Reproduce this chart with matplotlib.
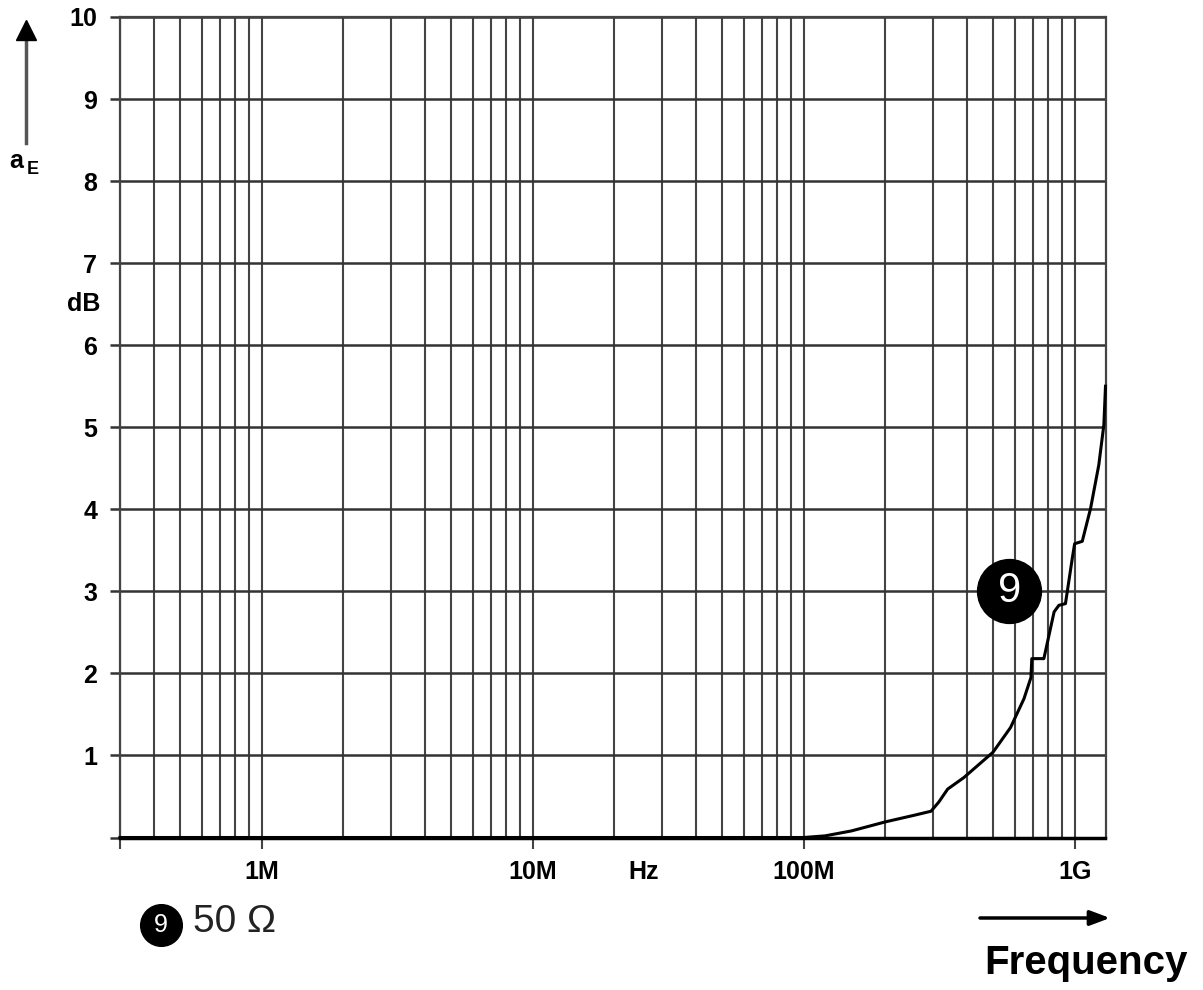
import matplotlib
matplotlib.use('Agg')
import matplotlib.pyplot as plt
from matplotlib.lines import Line2D
from matplotlib.ticker import FixedLocator, NullFormatter

plt.rcParams['font.family'] = ['Liberation Sans', 'DejaVu Sans']

# attenuation curve (Hz, dB)
freq_hz = [3e5, 1e8, 1.2e8, 1.5e8, 2e8, 2.55e8, 2.95e8, 3.15e8, 3.4e8, 3.9e8,
           5.0e8, 5.8e8, 6.5e8, 6.9e8, 6.95e8, 7.7e8, 8.4e8, 8.75e8, 9.25e8,
           9.8e8, 1.0e9, 1.067e9, 1.145e9, 1.228e9, 1.282e9, 1.3e9]
atten_db = [0, 0, 0.02, 0.08, 0.19, 0.27, 0.32, 0.43, 0.59, 0.73,
            1.04, 1.34, 1.69, 1.95, 2.18, 2.18, 2.75, 2.83, 2.85,
            3.40, 3.58, 3.61, 4.01, 4.54, 5.03, 5.5]

x_major = [3e5, 1e6, 1e7, 1e8, 1e9]
x_major_labels = ['', '1M', '10M', '100M', '1G']
y_ticks = list(range(0, 11))
y_labels = [''] + [str(v) for v in range(1, 11)]

marker_pos = (5.75e8, 3.0)   # the circled "9" on the curve
marker_text = '9'
legend_text = '50 Ω'

fig = plt.figure(figsize=(12.03, 9.9), dpi=100)
ax = fig.add_axes([120 / 1203, 1 - 837.5 / 990, 985.5 / 1203, 820.5 / 990])

ax.set_xscale('log')
ax.set_xlim(3e5, 1.3e9)
ax.set_ylim(0, 10)

# minor grid lines at 2..9 of every decade
minor = [m * 10 ** e for e in range(5, 10) for m in range(2, 10)
         if 3e5 < m * 10 ** e < 1.3e9 and m * 10 ** e not in x_major]
ax.xaxis.set_major_locator(FixedLocator(x_major))
ax.xaxis.set_minor_locator(FixedLocator(minor))
ax.xaxis.set_minor_formatter(NullFormatter())
ax.set_xticklabels(x_major_labels)
ax.set_yticks(y_ticks)
ax.set_yticklabels(y_labels)

grid_col = '#444444'
ax.grid(True, which='both', axis='x', color=grid_col, lw=1.5)
ax.grid(True, which='major', axis='y', color='#333333', lw=1.8)

ax.tick_params(axis='x', which='major', direction='out', length=8, width=1.5,
               color=grid_col, pad=8, labelsize=18)
ax.tick_params(axis='x', which='minor', length=0)
ax.tick_params(axis='y', direction='out', length=7.5, width=1.8,
               color='#333333', pad=9, labelsize=18)
for lbl in ax.get_xticklabels() + ax.get_yticklabels():
    lbl.set_fontweight('bold')

for side in ['left', 'right', 'top']:
    ax.spines[side].set_color(grid_col)
    ax.spines[side].set_linewidth(1.6)
ax.spines['bottom'].set_color('black')
ax.spines['bottom'].set_linewidth(2.5)

ax.plot(freq_hz, atten_db, color='black', lw=2.2, clip_on=False, zorder=5)

# circled label on the curve
ax.plot([marker_pos[0]], [marker_pos[1]], 'o', color='black', markersize=46, zorder=6)
ax.text(marker_pos[0], marker_pos[1], marker_text, color='white', fontsize=30,
        ha='center', va='center', zorder=7)

# axis annotations
fig.text(16 / 1203, 1 - 161 / 990, 'a', fontsize=18, fontweight='bold',
         ha='center', va='center')
fig.text(33 / 1203, 1 - 170 / 990, 'E', fontsize=13, fontweight='bold',
         ha='center', va='center')
fig.add_artist(Line2D([26 / 1203, 26 / 1203], [1 - 143 / 990, 1 - 40 / 990],
                      color='#555555', lw=2.5))
fig.add_artist(Line2D([26 / 1203], [1 - 30 / 990], marker='^', markersize=14,
                      color='black', lw=0))
fig.text(84 / 1203, 1 - 304 / 990, 'dB', fontsize=18, fontweight='bold',
         ha='center', va='center')
fig.text(644 / 1203, 1 - 872 / 990, 'Hz', fontsize=18, fontweight='bold',
         ha='center', va='center')

ax.annotate('', xy=(1110 / 1203, 1 - 918 / 990), xytext=(980 / 1203, 1 - 918 / 990),
            xycoords='figure fraction', textcoords='figure fraction',
            arrowprops=dict(arrowstyle='-|>,head_length=1.2,head_width=0.45',
                            color='black', lw=2.5, shrinkA=0, shrinkB=0))
fig.text(1086 / 1203, 1 - 963 / 990, 'Frequency', fontsize=29, fontweight='bold',
         ha='center', va='center')

# legend entry
fig.add_artist(Line2D([161 / 1203], [1 - 925 / 990], marker='o', markersize=30,
                      color='black', lw=0))
fig.text(161 / 1203, 1 - 925 / 990, marker_text, color='white', fontsize=18,
         ha='center', va='center')
fig.text(193 / 1203, 1 - 922 / 990, legend_text, fontsize=28, color='#222222',
         ha='left', va='center')

fig.savefig('out.png', dpi=100)
